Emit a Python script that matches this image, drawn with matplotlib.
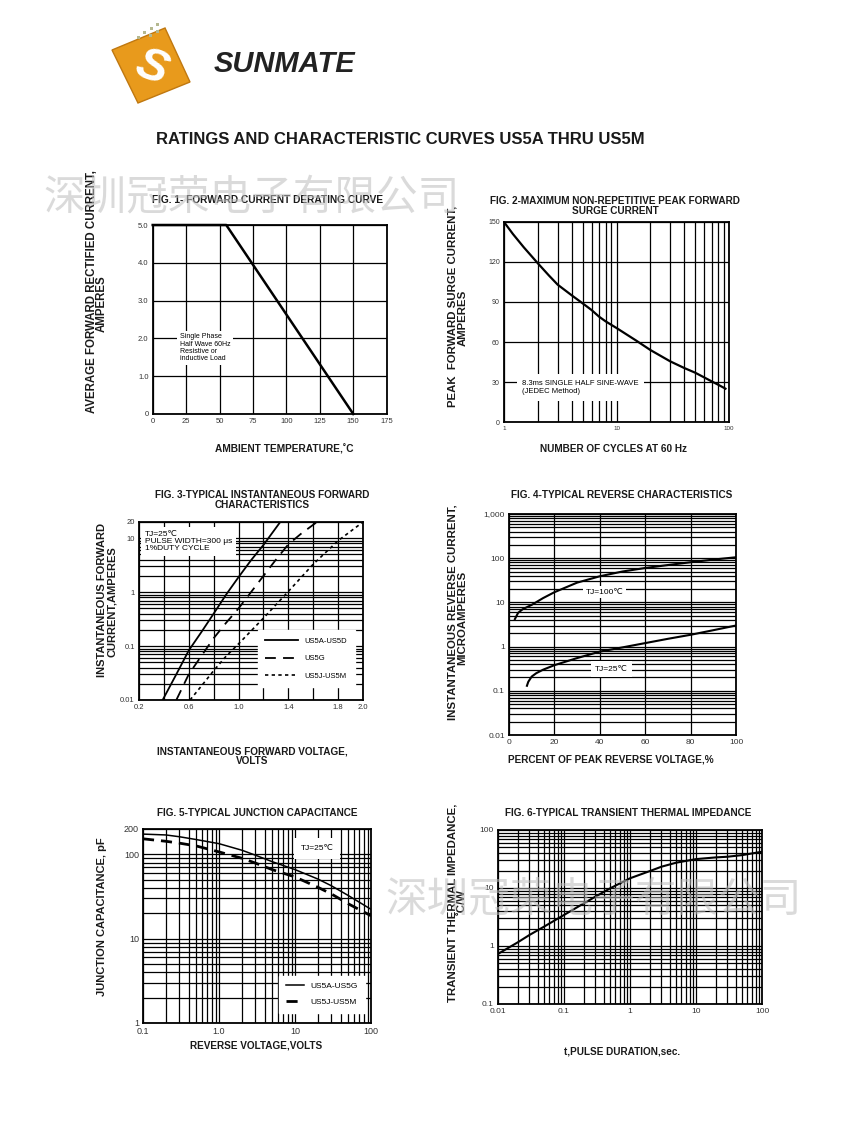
import numpy as np
import matplotlib
matplotlib.use("Agg")
import matplotlib.pyplot as plt
from matplotlib.ticker import NullFormatter, LogLocator
from matplotlib.patches import Polygon

plt.rcParams['font.family'] = ['Liberation Sans', 'DejaVu Sans']

# ---- data ----
# fig 1 - derating
derate_temp = [0, 55, 150]
derate_amp = [5.0, 5.0, 0.0]
fig1_xticks = [0, 25, 50, 75, 100, 125, 150, 175]
fig1_yticks = [0, 1, 2, 3, 4, 5]
fig1_ylabels = ["0", "1.0", "2.0", "3.0", "4.0", "5.0"]

# fig 2 - surge current
surge_cycles = [1, 1.2, 1.5, 2, 2.5, 3, 4, 5, 6, 7, 8, 10, 15, 20, 30, 40, 50, 60, 70, 80, 93]
surge_amps = [150, 141, 131, 119, 110, 103, 95, 89, 84, 79, 75.5, 70.5, 61, 54, 45.5,
              40.5, 37, 33.5, 30.5, 28, 25]
fig2_yticks = [0, 30, 60, 90, 120, 150]

# fig 3 - forward characteristics
vf_ad = [0.39, 0.5, 0.6, 0.7, 0.8, 0.9, 1.0, 1.1, 1.2, 1.335]
if_ad = [0.01, 0.03, 0.083, 0.18, 0.4, 0.9, 1.9, 3.9, 7.5, 20]
vf_g = [0.5, 0.6, 0.7, 0.8, 0.9, 1.0, 1.1, 1.2, 1.3, 1.4, 1.5, 1.63]
if_g = [0.01, 0.03, 0.065, 0.14, 0.27, 0.5, 1.0, 2.0, 4.0, 7.7, 12, 20]
vf_jm = [0.61, 0.7, 0.8, 0.9, 1.0, 1.2, 1.4, 1.6, 1.8, 2.0]
if_jm = [0.01, 0.018, 0.035, 0.065, 0.11, 0.33, 1.03, 3.3, 9.0, 20]
fig3_xticks = [0.2, 0.4, 0.6, 0.8, 1.0, 1.2, 1.4, 1.6, 1.8, 2.0]
fig3_xlabels = ["0.2", "", "0.6", "", "1.0", "", "1.4", "", "1.8", "2.0"]
fig3_yticks = [0.01, 0.1, 1, 10, 20]
fig3_ylabels = ["0.01", "0.1", "1", "10", "20"]

# fig 4 - reverse characteristics
pct_100 = [2.6, 4, 6, 10, 15, 20, 30, 40, 50, 60, 70, 80, 90, 100]
ir_100 = [4.2, 5.8, 7.0, 8.8, 12.5, 17, 28, 39, 50, 60, 70, 81, 93, 105]
pct_25 = [7.9, 8.5, 10, 12, 15, 20, 30, 40, 50, 60, 70, 80, 90, 100]
ir_25 = [0.13, 0.16, 0.21, 0.25, 0.3, 0.38, 0.55, 0.77, 0.96, 1.2, 1.5, 1.85, 2.35, 3.0]
fig4_yticks = [0.01, 0.1, 1, 10, 100, 1000]
fig4_ylabels = ["0.01", "0.1", "1", "10", "100", "1,000"]

# fig 5 - junction capacitance
vr = [0.1, 0.2, 0.3, 0.5, 1.0, 2, 3, 5, 10, 20, 30, 50, 100]
cj_ag = [174, 170, 162, 150, 134, 112, 98, 82, 66, 51, 42.5, 32.6, 22.3]
cj_jm = [153, 143, 136, 126, 107, 90, 79, 66, 54, 40.7, 34, 26, 18.7]

# fig 6 - transient thermal impedance
tp = [0.01, 0.02, 0.03, 0.05, 0.1, 0.2, 0.3, 0.5, 1, 2, 3, 5, 10, 20, 30, 50, 100]
zth = [0.73, 1.16, 1.55, 2.16, 3.43, 5.44, 7.1, 9.87, 14.7, 19.6, 23.3, 27.3,
       31.5, 33.7, 34.6, 36.9, 42.2]

W, H = 847, 1125
fig = plt.figure(figsize=(W / 100, H / 100), dpi=100)


def box(l, t, r, b):
    return fig.add_axes([l / W, 1 - b / H, (r - l) / W, (b - t) / H])


def ptext(x, y, s, **kw):
    kw.setdefault('ha', 'center')
    kw.setdefault('va', 'center')
    return fig.text(x / W, 1 - y / H, s, **kw)


def style(ax, fs):
    for s in ax.spines.values():
        s.set_linewidth(1.3)
    ax.tick_params(which='both', length=0, labelsize=fs, labelcolor='#333333', pad=3)
    ax.set_axisbelow(True)


def logminor(axis):
    axis.set_minor_locator(LogLocator(base=10, subs=np.arange(2, 10), numticks=30))
    axis.set_minor_formatter(NullFormatter())


white = dict(facecolor='white', edgecolor='none', pad=2)
bold = dict(fontweight='bold', color='#1a1a1a')

# ---- header ----
bg = fig.add_axes([0, 0, 1, 1], zorder=-5)
bg.set_xlim(0, W)
bg.set_ylim(H, 0)
bg.axis('off')
bg.add_patch(Polygon([(112, 50), (165, 28), (190, 82), (138, 103)], closed=True,
                     facecolor='#e89a1c', edgecolor='#c07810'))
for (dx, dy) in [(143, 31), (150, 27), (156, 23), (149, 34), (156, 30), (137, 36)]:
    bg.add_patch(Polygon([(dx, dy), (dx + 3, dy), (dx + 3, dy + 3), (dx, dy + 3)],
                         facecolor='#b5b890', edgecolor='none'))
bg.text(151, 68, "S", color='white', fontsize=34, fontweight='bold', style='italic',
        ha='center', va='center', rotation=-20)
ptext(284, 64, "SUNMATE", fontsize=21, fontweight='bold', style='italic', color='#222222')
ptext(400, 140, "RATINGS AND CHARACTERISTIC CURVES US5A THRU US5M", fontsize=12, **bold)

# ---- fig 1 ----
ax1 = box(152.7, 225, 386.7, 414)
ax1.plot(derate_temp, derate_amp, color='black', lw=1.8, clip_on=False)
ax1.set_xlim(0, 175)
ax1.set_ylim(0, 5)
ax1.set_xticks(fig1_xticks)
ax1.set_yticks(fig1_yticks)
ax1.set_yticklabels(fig1_ylabels)
ax1.grid(color='black', lw=0.9)
style(ax1, 5.5)
ax1.text(20.4, 2.13, "Single Phase\nHalf Wave 60Hz\nResistive or\ninductive Load",
         fontsize=5, va='top', linespacing=1.05, bbox=white)
ptext(268, 200, "FIG. 1- FORWARD CURRENT DERATING CURVE", fontsize=7.3, **bold)
ptext(92, 292, "AVERAGE FORWARD RECTIFIED CURRENT,", fontsize=8.3, rotation=90, **bold)
ptext(102, 304, "AMPERES", fontsize=8.3, rotation=90, **bold)
ptext(284, 449, "AMBIENT TEMPERATURE,˚C", fontsize=7.3, **bold)

# ---- fig 2 ----
ax2 = box(504, 222, 729, 422)
ax2.plot(surge_cycles, surge_amps, color='black', lw=1.6)
ax2.set_xscale('log')
ax2.set_xlim(1, 100)
ax2.set_ylim(0, 150)
ax2.set_yticks(fig2_yticks)
ax2.set_xticks([1, 10, 100])
ax2.set_xticklabels(["1", "10", "100"])
logminor(ax2.xaxis)
ax2.grid(axis='x', which='both', color='black', lw=0.9)
ax2.grid(axis='y', which='major', color='black', lw=0.9)
style(ax2, 5)
ax2.tick_params(axis='x', labelsize=4.5)
ax2.text(1.45, 31.5, "8.3ms SINGLE HALF SINE-WAVE\n(JEDEC Method)", fontsize=5.5,
         va='top', linespacing=1.2, bbox=dict(facecolor='white', edgecolor='none', pad=4))
ptext(615, 201, "FIG. 2-MAXIMUM NON-REPETITIVE PEAK FORWARD", fontsize=7.2, **bold)
ptext(615, 211, "SURGE CURRENT", fontsize=7.2, **bold)
ptext(452, 306, "PEAK  FORWARD SURGE CURRENT,", fontsize=8.2, rotation=90, **bold)
ptext(463, 318, "AMPERES", fontsize=8.2, rotation=90, **bold)
ptext(614, 449, "NUMBER OF CYCLES AT 60 Hz", fontsize=7.2, **bold)

# ---- fig 3 ----
ax3 = box(139, 522, 363, 700)
ax3.plot(vf_ad, if_ad, color='black', lw=1.3, label="US5A-US5D")
ax3.plot(vf_g, if_g, color='black', lw=1.3, dashes=(6, 4), label="US5G")
ax3.plot(vf_jm, if_jm, color='black', lw=1.2, dashes=(2, 2), label="US5J-US5M")
ax3.set_yscale('log')
ax3.set_xlim(0.2, 2.0)
ax3.set_ylim(0.01, 20)
ax3.set_xticks(fig3_xticks)
ax3.set_xticklabels(fig3_xlabels)
ax3.set_yticks(fig3_yticks)
ax3.set_yticklabels(fig3_ylabels)
logminor(ax3.yaxis)
ax3.grid(which='both', color='black', lw=0.9)
style(ax3, 5.5)
ax3.text(0.248, 13.5, "TJ=25℃\nPULSE WIDTH=300 μs\n1%DUTY CYCLE", fontsize=6,
         va='top', linespacing=1.0, bbox=dict(facecolor='white', edgecolor='none', pad=3))
ax3.legend(loc='lower right', bbox_to_anchor=(0.98, 0.05), fontsize=5.5,
           handlelength=4.3, labelspacing=1.3, borderpad=1.0,
           fancybox=False, framealpha=1, edgecolor='white')
ptext(262, 495, "FIG. 3-TYPICAL INSTANTANEOUS FORWARD", fontsize=7.2, **bold)
ptext(262, 505, "CHARACTERISTICS", fontsize=7.2, **bold)
ptext(102, 600, "INSTANTANEOUS FORWARD", fontsize=8, rotation=90, **bold)
ptext(112, 602, "CURRENT,AMPERES", fontsize=8, rotation=90, **bold)
ptext(252, 751, "INSTANTANEOUS FORWARD VOLTAGE,", fontsize=7.2, **bold)
ptext(252, 761, "VOLTS", fontsize=7.2, **bold)

# ---- fig 4 ----
ax4 = box(509, 514, 736, 735)
ax4.plot(pct_100, ir_100, color='black', lw=1.5)
ax4.plot(pct_25, ir_25, color='black', lw=1.5)
ax4.set_yscale('log')
ax4.set_xlim(0, 100)
ax4.set_ylim(0.01, 1000)
ax4.set_xticks([0, 20, 40, 60, 80, 100])
ax4.set_yticks(fig4_yticks)
ax4.set_yticklabels(fig4_ylabels)
logminor(ax4.yaxis)
ax4.grid(which='both', color='black', lw=0.9)
style(ax4, 6)
ax4.text(42, 17, "TJ=100℃", fontsize=6, ha='center', va='center', bbox=white)
ax4.text(45, 0.31, "TJ=25℃", fontsize=6, ha='center', va='center',
         bbox=dict(facecolor='white', edgecolor='none', pad=3))
ptext(622, 495, "FIG. 4-TYPICAL REVERSE CHARACTERISTICS", fontsize=7.2, **bold)
ptext(452, 612, "INSTANTANEOUS REVERSE CURRENT,", fontsize=8.2, rotation=90, **bold)
ptext(462, 618, "MICROAMPERES", fontsize=8.2, rotation=90, **bold)
ptext(611, 759, "PERCENT OF PEAK REVERSE VOLTAGE,%", fontsize=7.2, **bold)

# ---- fig 5 ----
ax5 = box(143, 829, 371, 1023)
ax5.plot(vr, cj_ag, color='black', lw=1.1, label="US5A-US5G")
ax5.plot(vr, cj_jm, color='black', lw=2.0, dashes=(4, 2.5), label="US5J-US5M")
ax5.set_xscale('log')
ax5.set_yscale('log')
ax5.set_xlim(0.1, 100)
ax5.set_ylim(1, 200)
ax5.set_xticks([0.1, 1, 10, 100])
ax5.set_xticklabels(["0.1", "1.0", "10", "100"])
ax5.set_yticks([1, 10, 100, 200])
ax5.set_yticklabels(["1", "10", "100", "200"])
logminor(ax5.xaxis)
logminor(ax5.yaxis)
ax5.grid(which='both', color='black', lw=0.9)
style(ax5, 6.5)
ax5.text(19.5, 117, "TJ=25℃", fontsize=6, ha='center', va='center',
         bbox=dict(facecolor='white', edgecolor='none', pad=5))
ax5.legend(loc='lower right', bbox_to_anchor=(0.99, 0.03), fontsize=6,
           handlelength=2.2, labelspacing=1.0, borderpad=0.8,
           fancybox=False, framealpha=1, edgecolor='white')
ptext(257, 813, "FIG. 5-TYPICAL JUNCTION CAPACITANCE", fontsize=7.2, **bold)
ptext(102, 917, "JUNCTION CAPACITANCE, pF", fontsize=8, rotation=90, **bold)
ptext(256, 1046, "REVERSE VOLTAGE,VOLTS", fontsize=7.2, **bold)

# ---- fig 6 ----
ax6 = box(498, 830, 762, 1004)
ax6.plot(tp, zth, color='black', lw=1.5)
ax6.set_xscale('log')
ax6.set_yscale('log')
ax6.set_xlim(0.01, 100)
ax6.set_ylim(0.1, 100)
ax6.set_xticks([0.01, 0.1, 1, 10, 100])
ax6.set_xticklabels(["0.01", "0.1", "1", "10", "100"])
ax6.set_yticks([0.1, 1, 10, 100])
ax6.set_yticklabels(["0.1", "1", "10", "100"])
logminor(ax6.xaxis)
logminor(ax6.yaxis)
ax6.grid(which='both', color='black', lw=0.9)
style(ax6, 6)
ptext(628, 813, "FIG. 6-TYPICAL TRANSIENT THERMAL IMPEDANCE", fontsize=7.2, **bold)
ptext(452, 903, "TRANSIENT THERMAL IMPEDANCE,", fontsize=8.2, rotation=90, **bold)
ptext(462, 902, "˚C/W", fontsize=8.2, rotation=90, **bold)
ptext(622, 1051, "t,PULSE DURATION,sec.", fontsize=7.2, **bold)

# ---- watermarks ----
wm = "深圳冠荣电子有限公司"
ptext(252, 198, wm, fontsize=30, color='#bdbdbd', alpha=0.55,
      family=['Noto Sans CJK SC', 'DejaVu Sans'], zorder=10)
ptext(594, 900, wm, fontsize=30, color='#bdbdbd', alpha=0.55,
      family=['Noto Sans CJK SC', 'DejaVu Sans'], zorder=10)

fig.savefig("out.png", dpi=100)
